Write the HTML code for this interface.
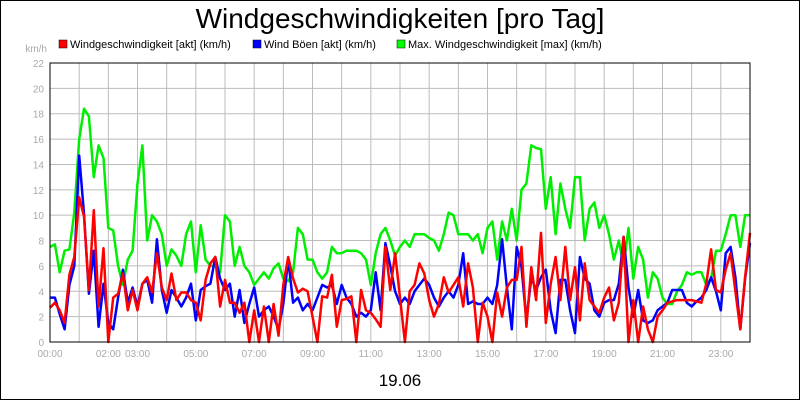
<!DOCTYPE html>
<html><head><meta charset="utf-8"><style>
body{margin:0;background:#fff}
svg{display:block;font-family:"Liberation Sans",sans-serif}
</style></head><body>
<svg width="800" height="400" viewBox="0 0 800 400" xmlns="http://www.w3.org/2000/svg">
<rect x="0.5" y="0.5" width="799" height="399" fill="#fff" stroke="#000"/>
<text x="400" y="28" font-size="28" text-anchor="middle">Windgeschwindigkeiten [pro Tag]</text>
<g font-size="11">
<g><rect x="59" y="40" width="8" height="8" fill="#f00" stroke="#000" stroke-width="0.5"/><text x="70" y="48">Windgeschwindigkeit [akt] (km/h)</text></g>
<g><rect x="253" y="40" width="8" height="8" fill="#00f" stroke="#000" stroke-width="0.5"/><text x="264" y="48">Wind Böen [akt] (km/h)</text></g>
<g><rect x="397" y="40" width="8" height="8" fill="#0f0" stroke="#000" stroke-width="0.5"/><text x="408" y="48">Max. Windgeschwindigkeit [max] (km/h)</text></g>
</g>
<text x="47" y="52" font-size="10" fill="#aaa" text-anchor="end">km/h</text>
<g id="grid"></g>
<g id="yticks" font-size="10" fill="#aaa"></g>
<g id="xticks" font-size="10" fill="#aaa"></g>
<g id="series"></g>
<rect x="50" y="63" width="700" height="279" fill="none" stroke="#000" stroke-width="1"/>
<text x="400" y="386" font-size="17" text-anchor="middle">19.06</text>
</svg>
<script>
const yTicks=[0,2,4,6,8,10,12,14,16,18,20,22];
const xTickHours=[0,2,3,5,7,9,11,13,15,17,19,21,23];
const xTickLabels=["00:00","02:00","03:00","05:00","07:00","09:00","11:00","13:00","15:00","17:00","19:00","21:00","23:00"];
const stepMinutes=10;
const windAkt=[2.7,3.1,2.5,1.5,5.3,6.7,11.4,9.9,4.1,10.4,2.8,7.4,0,3.5,3.8,5.4,2.5,4.1,2.5,4.6,5.1,3.9,7,4.3,3.3,5.4,3.3,3.9,3.9,3.3,3.1,1.7,4.9,6.2,6.7,2.8,4.9,3.1,3.1,2.3,3.1,0,2.5,0,2.8,0,3,0.5,4.5,6.7,5,3.9,4.2,4,2,0,3.6,3.5,5.3,1.2,3.3,3.4,3.6,0,4.1,2.5,2.3,1.8,1.2,7.5,4.1,7,3.5,0,4,4.5,6.2,5.4,3.3,2,3,5.1,3.9,4.5,5.1,2.8,6.2,4.3,0,3.1,2,0,3.9,2,4.3,4.9,4.9,7.5,1.2,5.9,3.3,8.6,1.5,4.6,6.7,3.3,7.5,3.3,5.9,1.7,6.2,3.3,2.8,2.3,3.5,4.3,1.7,3.1,8.3,0,3.3,0,2.8,1,0,2,2.5,3.1,3.2,3.3,3.3,3.3,3.3,3.2,3.1,4.6,7.3,4.1,3.9,5.7,7,4,1,5.1,8.6];
const windBoeen=[3.5,3.5,2.2,1,4.5,6,14.7,10.1,3.8,7.2,1.2,4.6,1.5,1,3.5,5.7,3.1,4.3,2.8,4.6,4.9,3.1,8.1,4.1,2.3,4.1,3.5,2.8,3.5,4.6,1.7,4.1,4.4,4.6,6.7,5,4.1,4.6,2,4.1,1.5,3,4.3,2,2.5,2.8,2,1,3,6.5,3.1,3.5,2.5,3,2.5,3.5,4.5,4.3,4.5,3,4.5,3.5,3,2,2.3,2,2.5,5.5,2.5,7.8,6,4,3,3.5,3,4,4.5,5,4.5,3.5,2.8,3.5,4,3.5,4.5,7,3,3.2,3,3,3.5,3,4.5,8.1,4.3,1,7.5,5.9,1.7,5.1,4.1,5.1,5.7,2.5,0.7,4.9,4.9,2.5,0.7,6.7,5,4.6,2.5,2,3.1,3.3,3.3,4.6,8.3,4.3,2,4.1,1.7,1.5,1.7,2.5,2.8,3.1,4.1,4.1,4.1,3.1,2.8,3.2,3.5,4.1,5.1,4,2.5,7,7.5,5.1,1,5,7.8];
const windMax=[7.5,7.7,5.5,7.2,7.3,10.2,16,18.4,17.8,13,15.5,14.5,9,8.8,6,4.5,6.5,7.2,12.5,15.5,8,10,9.5,8.5,6,7.3,6.8,6,8.5,9.5,5.5,9.2,6.5,6,6,5.5,10,9.5,6,7.5,6,5.5,4.5,5,5.5,5,5.8,6.2,5,4.8,5.5,9,8.5,6.5,6.5,5.5,5,5.5,7.5,7,7,7.2,7.2,7.2,7,6.5,4.5,7,8.5,9,8,6.8,7.5,8,7.5,8.5,8.5,8.5,8.2,8,7.2,8.5,10.2,10,8.5,8.5,8.5,8,8.5,7,9,9.5,6.5,9.5,8,10.5,8,12,12.5,15.5,15.3,15.2,10.5,13,8.5,12.5,10.5,9,13,13,8,10.5,11,9,10,8.5,6.5,8,6,9,5,7.5,6.5,3.5,5.5,5,3.5,3,3,4,4.5,5.5,5.3,5.5,5.5,4.5,5,7.2,7.2,8.5,10,10,7.5,10,10];

const NS="http://www.w3.org/2000/svg";
const X0=50,X1=750,Y0=342,Y1=63,YMAX=22;
const xOfHour=h=>X0+(X1-X0)*h/24;
const yOf=v=>Y0-(Y0-Y1)*v/YMAX;
function mk(tag,attrs,parent){const e=document.createElementNS(NS,tag);for(const k in attrs)e.setAttribute(k,attrs[k]);parent.appendChild(e);return e;}
const grid=document.getElementById('grid'),yt=document.getElementById('yticks'),xt=document.getElementById('xticks'),ser=document.getElementById('series');
yTicks.forEach(v=>{
  const l=mk('line',{x1:X0,x2:X1,y1:yOf(v),y2:yOf(v),stroke:'#bbb','stroke-width':1},grid);
  
  
  const t=mk('text',{x:X0-6,y:yOf(v)+4,'text-anchor':'end'},yt);
  t.textContent=v;
  
  
});
for(let h=1;h<24;h++){
  const l=mk('line',{x1:xOfHour(h),x2:xOfHour(h),y1:Y1,y2:Y0,stroke:'#bbb','stroke-width':1},grid);
  
  
}
xTickHours.forEach((h,i)=>{
  const t=mk('text',{x:xOfHour(h),y:357,'text-anchor':'middle'},xt);
  t.textContent=xTickLabels[i];
  
  
});
function drawLine(vals,color,name){
  const pts=vals.map((v,i)=>xOfHour(i*stepMinutes/60).toFixed(1)+','+yOf(v).toFixed(1)).join(' ');
  const p=mk('polyline',{points:pts,fill:'none',stroke:color,'stroke-width':2.5,'stroke-linejoin':'round'},ser);
  
  
}
drawLine(windMax,'#00ee00','series-max-wind');
drawLine(windBoeen,'#0000ff','series-gusts');
drawLine(windAkt,'#ff0000','series-wind');
</script>
</body></html>
